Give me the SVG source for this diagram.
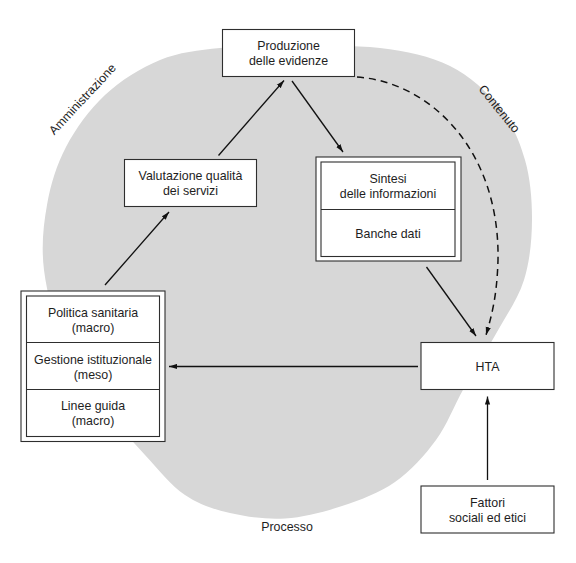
<svg xmlns="http://www.w3.org/2000/svg" width="576" height="563" viewBox="0 0 576 563">
<defs>
<style>
.bg{fill:#d7d7d7;stroke:none}
.box{fill:#fff;stroke:#2e2e2e;stroke-width:1.1}
.div{stroke:#2e2e2e;stroke-width:1.1;fill:none}
.t{font-family:"Liberation Sans",Arial,Helvetica,sans-serif;font-size:12.4px;fill:#1e1e1e;text-anchor:middle}
.c{stroke:#111;stroke-width:1.3;fill:none}
.d{stroke:#111;stroke-width:1.5;fill:none;stroke-dasharray:7 5}
</style>
<marker id="ah" markerUnits="userSpaceOnUse" markerWidth="8" markerHeight="6" refX="8" refY="3" orient="auto">
<path d="M0,0.4 L8,3 L0,5.6 Z" fill="#111"/>
</marker>
</defs>
<rect width="576" height="563" fill="#fff"/>
<g id="sfondo">
<path class="bg" d="M290,46.5 C316.67,46.5 353.33,44.75 380,48 C406.67,51.25 430,56 450,66 C470,76 487.5,92.33 500,108 C512.5,123.67 519.67,141.33 525,160 C530.33,178.67 532.17,200 532,220 C531.83,240 529.83,261.33 524,280 C518.17,298.67 507,314 497,332 C487,350 474.17,370 464,388 C453.83,406 447.5,424.33 436,440 C424.5,455.67 410.67,471 395,482 C379.33,493 360.33,499.92 342,506 C323.67,512.08 303.67,517.33 285,518.5 C266.33,519.67 246.67,516.92 230,513 C213.33,509.08 199.17,504.67 185,495 C170.83,485.33 159.5,470.83 145,455 C130.5,439.17 111.5,418.33 98,400 C84.5,381.67 73,366.67 64,345 C55,323.33 46.83,293.33 44,270 C41.17,246.67 43.33,225.5 47,205 C50.67,184.5 56.33,165.33 66,147 C75.67,128.67 89.33,109.5 105,95 C120.67,80.5 140.83,67.83 160,60 C179.17,52.17 198.33,50.25 220,48 C241.67,45.75 263.33,46.5 290,46.5 Z"/>
<text class="t" transform="translate(85.5,102) rotate(-47)">Amministrazione</text>
<text class="t" transform="translate(496,111.5) rotate(51)">Contenuto</text>
<text class="t" x="287" y="531">Processo</text>
</g>
<g id="connettori">
<line class="c" x1="105" y1="285" x2="169" y2="212" marker-end="url(#ah)"/>
<line class="c" x1="218.5" y1="155.5" x2="284" y2="80.5" marker-end="url(#ah)"/>
<line class="c" x1="292" y1="81" x2="343" y2="152" marker-end="url(#ah)"/>
<line class="c" x1="426.5" y1="267" x2="476" y2="336" marker-end="url(#ah)"/>
<path class="d" d="M357,77 C430,82 500,150 498,260 C497,295 492,315 486,335" marker-end="url(#ah)"/>
<line class="c" x1="418" y1="366.5" x2="169" y2="366.5" marker-end="url(#ah)"/>
<line class="c" x1="487.5" y1="480" x2="487.5" y2="396.5" marker-end="url(#ah)"/>
</g>
<g id="produzione">
<rect class="box" x="222.5" y="29.5" width="132" height="47"/>
<text class="t" x="288.5" y="50">Produzione</text>
<text class="t" x="288.5" y="65">delle evidenze</text>
</g>
<g id="valutazione">
<rect class="box" x="124.5" y="159.5" width="132" height="47"/>
<text class="t" x="190.5" y="180">Valutazione qualità</text>
<text class="t" x="190.5" y="195">dei servizi</text>
</g>
<g id="sintesi">
<rect class="box" x="316" y="157" width="145" height="104"/>
<rect class="box" x="321" y="162" width="134" height="94.5"/>
<line class="div" x1="321" y1="209.5" x2="455" y2="209.5"/>
<text class="t" x="388" y="182.5">Sintesi</text>
<text class="t" x="388" y="197.5">delle informazioni</text>
<text class="t" x="388" y="237.5">Banche dati</text>
</g>
<g id="politica">
<rect class="box" x="21" y="291" width="144" height="150.5"/>
<rect class="box" x="26.5" y="296" width="133" height="140.5"/>
<line class="div" x1="26.5" y1="342.5" x2="159.5" y2="342.5"/>
<line class="div" x1="26.5" y1="389.5" x2="159.5" y2="389.5"/>
<text class="t" x="93" y="316.5">Politica sanitaria</text>
<text class="t" x="93" y="331.5">(macro)</text>
<text class="t" x="93" y="363.5">Gestione istituzionale</text>
<text class="t" x="93" y="378.5">(meso)</text>
<text class="t" x="93" y="410">Linee guida</text>
<text class="t" x="93" y="425">(macro)</text>
</g>
<g id="hta">
<rect class="box" x="421" y="342.5" width="133" height="47"/>
<text class="t" x="487.5" y="370.5">HTA</text>
</g>
<g id="fattori">
<rect class="box" x="421" y="486" width="133" height="47"/>
<text class="t" x="487.5" y="506.5">Fattori</text>
<text class="t" x="487.5" y="521.5">sociali ed etici</text>
</g>
</svg>
